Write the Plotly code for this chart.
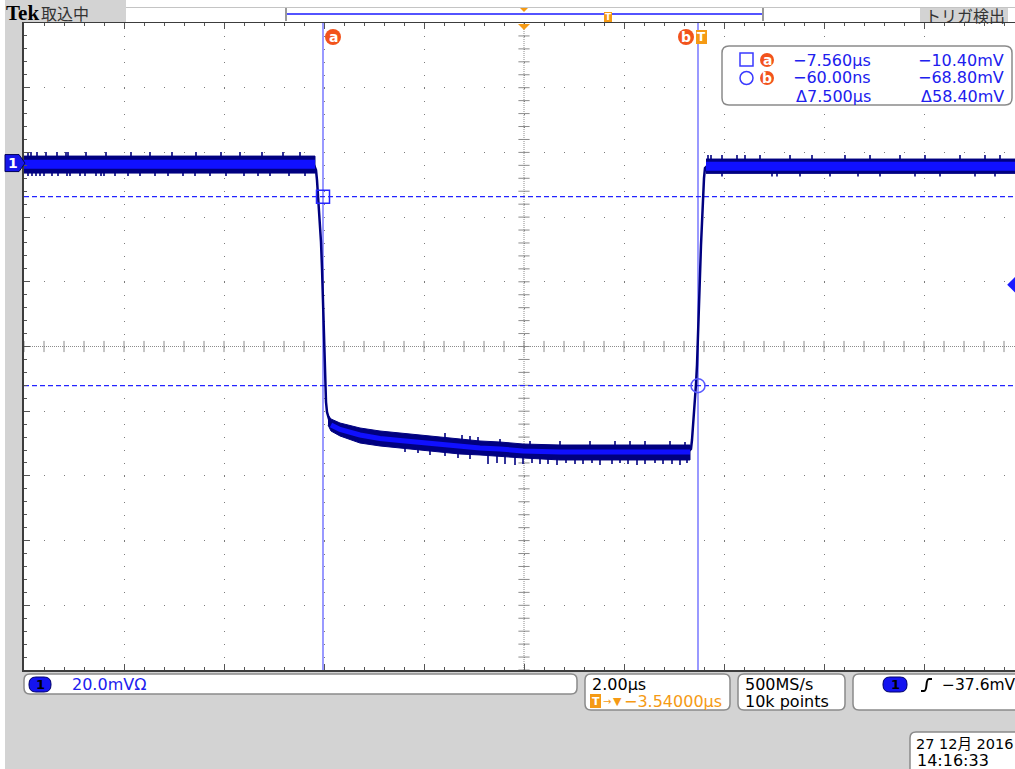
import plotly.graph_objects as go

# ---------------- acquisition / screen settings ----------------
t_min, t_max = -13.54, 6.28        # visible time window (µs)
v_min, v_max = -156.7, 43.3        # visible level window (mV)
center_time_us = -3.54             # trigger -> screen centre delay
center_level_mv = -56.7            # screen centre level
x_div_us = 2.0
y_div_mv = 20.0
trigger_level_mv = -37.6

# cursors
cur_a_t, cur_a_v = -7.560, -10.40
cur_b_t, cur_b_v = -0.060, -68.80

# ---------------- channel 1 waveform (µs, mV) ----------------
# high level before the falling edge: band top / bottom / bright core
hi1_t = [-13.54, -7.72]
hi1_top = [2.16, 2.16]
hi1_bot = [-3.09, -3.09]
hi1_core = [-0.40, -0.40]

# falling edge
fall_t = [-7.74, -7.70, -7.68, -7.66, -7.64, -7.62, -7.60, -7.58, -7.56,
          -7.54, -7.52, -7.50, -7.48, -7.44, -7.40]
fall_mv = [-0.62, -2.16, -5.25, -9.89, -15.14, -19.47, -24.41, -32.45,
           -43.88, -56.24, -67.06, -73.86, -76.95, -79.11, -80.35]

# low level with slow settling
low_t = [-7.46, -7.40, -7.22, -6.82, -6.42, -6.02, -5.62, -5.22, -4.82,
         -4.42, -4.02, -3.56, -2.82, -2.02, -1.22, -0.22]
low_top = [-77.87, -79.11, -80.35, -81.89, -82.82, -83.44, -84.05, -84.67,
           -85.29, -85.91, -86.22, -86.84, -87.15, -87.15, -87.15, -87.15]
low_bot = [-80.96, -82.82, -84.36, -86.53, -87.45, -88.07, -88.69, -89.31,
           -89.93, -90.23, -90.54, -91.16, -91.78, -91.78, -91.78, -91.78]
low_core = [-79.42, -80.96, -82.35, -84.05, -85.14, -85.75, -86.37, -86.99,
            -87.61, -88.07, -88.38, -89.00, -89.31, -89.31, -89.31, -89.31]

# rising edge
rise_t = [-0.24, -0.20, -0.18, -0.16, -0.14, -0.12, -0.10, -0.08, -0.06,
          -0.04, -0.02, 0.00, 0.02, 0.04, 0.06, 0.08, 0.12]
rise_mv = [-89.00, -88.38, -85.60, -81.89, -77.26, -72.62, -68.29, -62.42,
           -54.70, -45.43, -34.61, -25.34, -17.00, -9.89, -4.64, -1.55, -0.93]

# high level after the rising edge
hi2_t = [0.10, 6.28]
hi2_top = [1.24, 1.24]
hi2_bot = [-3.18, -3.18]
hi2_core = [-0.99, -0.99]

# noise excursions outside the band: (time µs, peak mV)
hi1_up_t = [-13.46, -13.40, -13.28, -13.10, -12.88, -12.70, -12.66, -12.30,
            -11.90, -11.40, -11.02, -10.58, -10.10, -9.60, -9.22, -8.78,
            -8.36, -8.02]
hi1_up_mv = [3.40] * 18
hi1_dn_t = [-13.46, -13.38, -13.30, -13.22, -13.14, -12.98, -12.86, -12.68,
            -12.62, -12.42, -12.32, -12.10, -12.00, -11.94, -11.72, -11.46,
            -11.22, -10.92, -10.66, -10.36, -10.12, -9.82, -9.50, -9.14,
            -8.86, -8.62, -8.24, -7.92]
hi1_dn_mv = [-4.02] * 28
low_up_t = [-5.12, -4.78, -4.62, -4.46, -4.02, -3.42, -2.82, -2.22, -1.72,
            -1.42, -1.12, -0.62, -0.32]
low_up_mv = [-83.44, -84.05, -84.36, -84.67, -85.29, -85.91, -85.91, -85.91,
             -85.91, -85.91, -85.91, -85.91, -86.22]
low_dn_t = [-5.92, -5.66, -5.42, -5.12, -4.86, -4.62, -4.26, -4.08, -3.92,
            -3.72, -3.56, -3.38, -3.22, -3.06, -2.88, -2.70, -2.52, -2.36,
            -2.18, -2.02, -1.78, -1.62, -1.46, -1.28, -1.12, -0.92, -0.76,
            -0.58, -0.42, -0.28]
low_dn_mv = [-89.31, -89.62, -90.23, -90.54, -91.16, -91.47, -93.02, -92.71,
             -93.02, -93.33, -93.02, -92.71, -93.02, -93.02, -93.33, -92.71,
             -93.02, -93.02, -92.71, -93.33, -93.02, -92.71, -93.02, -93.33,
             -93.02, -92.71, -93.02, -93.02, -93.33, -92.71]
hi2_up_t = [0.14, 0.20, 0.42, 0.72, 0.88, 1.18, 1.78, 2.22, 2.88, 3.38,
            3.98, 4.48, 5.18, 5.68, 5.98]
hi2_up_mv = [2.47] * 15
hi2_dn_t = [0.42, 1.42, 1.52, 1.98, 2.58, 3.14, 3.58, 4.28, 4.78, 5.48, 5.88]
hi2_dn_mv = [-4.17] * 11

# ---------------- readout texts ----------------
cursor_rows = [
    ("a", "\u22127.560µs", "\u221210.40mV"),
    ("b", "\u221260.00ns", "\u221268.80mV"),
    ("", "Δ7.500µs", "Δ58.40mV"),
]
scale_text = "20.0mVΩ"
timebase_text = "2.00µs"
delay_text = "\u22123.54000µs"
rate_text = "500MS/s"
length_text = "10k points"
trig_text = "\u221237.6mV"
date_text = "27 12月 2016"
clock_text = "14:16:33"

# ---------------- page geometry helpers ----------------
W, H = 1015, 769
X0, X1 = 24, 1015
Y0, Y1 = 23, 670


def fx(px):
    return (px - X0) / (X1 - X0)


def fy(py):
    return (Y1 - py) / (Y1 - Y0)


def tx(t):
    return X0 + (t - t_min) / (t_max - t_min) * (X1 - X0)


def vy(v):
    return Y0 + (v_max - v) / (v_max - v_min) * (Y1 - Y0)


NAVY = "#000080"
CORE = "#1010ff"
CURSOR_V = "#8080ff"
CURSOR_H = "#2424ff"
READ_BLUE = "#2020ee"
BADGE = "#f2531c"
TRIG_OR = "#f59a14"
GRAY_BG = "#d3d3d3"
GRID = "#7c7c7c"
FONT = "DejaVu Sans, Noto Sans CJK JP"

shapes = []
annots = []


def rect(x0, y0, x1, y1, fill, line=None, lw=0, layer="above"):
    shapes.append(dict(type="rect", xref="paper", yref="paper",
                       x0=fx(x0), x1=fx(x1), y0=fy(y1), y1=fy(y0),
                       fillcolor=fill, line=dict(color=line or fill, width=lw),
                       layer=layer))


def rounded(x0, y0, x1, y1, r, fill="white", line="#8a8a8a", lw=1.5):
    p = (f"M{fx(x0 + r)},{fy(y0)} L{fx(x1 - r)},{fy(y0)} "
         f"Q{fx(x1)},{fy(y0)} {fx(x1)},{fy(y0 + r)} L{fx(x1)},{fy(y1 - r)} "
         f"Q{fx(x1)},{fy(y1)} {fx(x1 - r)},{fy(y1)} L{fx(x0 + r)},{fy(y1)} "
         f"Q{fx(x0)},{fy(y1)} {fx(x0)},{fy(y1 - r)} L{fx(x0)},{fy(y0 + r)} "
         f"Q{fx(x0)},{fy(y0)} {fx(x0 + r)},{fy(y0)} Z")
    shapes.append(dict(type="path", xref="paper", yref="paper", path=p,
                       fillcolor=fill, line=dict(color=line, width=lw), layer="above"))


def circle(cx, cy, r, fill, line=None, lw=0):
    shapes.append(dict(type="circle", xref="paper", yref="paper",
                       x0=fx(cx - r), x1=fx(cx + r), y0=fy(cy + r), y1=fy(cy - r),
                       fillcolor=fill, line=dict(color=line or fill, width=lw),
                       layer="above"))


def poly(points, fill, line=None, lw=0):
    p = "M" + " L".join(f"{fx(a)},{fy(b)}" for a, b in points) + " Z"
    shapes.append(dict(type="path", xref="paper", yref="paper", path=p,
                       fillcolor=fill, line=dict(color=line or fill, width=lw),
                       layer="above"))


def seg(x0, y0, x1, y1, color, lw=1, dash="solid"):
    shapes.append(dict(type="line", xref="paper", yref="paper",
                       x0=fx(x0), x1=fx(x1), y0=fy(y0), y1=fy(y1),
                       line=dict(color=color, width=lw, dash=dash), layer="above"))


def text(px, py, s, size=16, color="black", anchor="left", family=FONT, bold=False):
    annots.append(dict(x=fx(px), y=fy(py), xref="paper", yref="paper",
                       text=f"<b>{s}</b>" if bold else s, showarrow=False,
                       xanchor=anchor, yanchor="middle",
                       font=dict(size=size, color=color, family=family)))


def badge(cx, cy, letter, r=8):
    circle(cx, cy, r, BADGE)
    text(cx, cy, letter, size=14, color="white", anchor="center", bold=True)


# ---------------- frame around the graticule ----------------
rect(0, 0, 5, H, "white")                      # thin white page margin
rect(126, 0, W, 22, "white")                   # top status strip
seg(126, 7.5, W, 7.5, "#c4c4c4", 1)
rect(5, 0, 126, 22, GRAY_BG)
text(4, 13, "Tek", size=21, family="Liberation Serif", bold=True)
text(39, 13, "取込中", size=16, color="#333333", family="Noto Sans CJK JP")
rect(920, 8, 1008, 22, GRAY_BG)
text(965, 15, "トリガ検出", size=16, color="#333333", anchor="center",
     family="Noto Sans CJK JP")

# record view bar
seg(286, 8, 286, 21, "#9a9a9a", 2)
seg(763, 8, 763, 21, "#9a9a9a", 2)
seg(287, 14, 762, 14, "#1a1aff", 1.5)
poly([(tx(center_time_us) - 4, 8), (tx(center_time_us) + 4, 8),
      (tx(center_time_us), 12)], TRIG_OR)
rect(604, 12, 612, 22, TRIG_OR)
text(608, 17, "T", size=9, color="white", anchor="center", bold=True)

# trigger position marker at the top of the graticule
cx_trig = tx(center_time_us)
poly([(cx_trig - 6, 24), (cx_trig + 6, 24), (cx_trig, 30)], TRIG_OR)

# channel ground marker
g_y = vy(0.0)
poly([(5, g_y - 8.5), (19, g_y - 8.5), (25, g_y), (19, g_y + 8.5), (5, g_y + 8.5)],
     "#1616e8", line="#00005a", lw=1)
text(13, g_y, "1", size=14, color="white", anchor="center", bold=True)

# cursor badges over the graticule
badge(tx(cur_a_t) + 10, 37, "a")
badge(tx(cur_b_t) - 12, 37, "b")
rect(tx(0.0) - 5, 30, tx(0.0) + 6, 44, TRIG_OR)
text(tx(0.0) + 0.5, 37, "T", size=12, color="white", anchor="center", bold=True)

# cursor readout box
rounded(722, 46, 1012, 105, 7)
shapes.append(dict(type="rect", xref="paper", yref="paper",
                   x0=fx(740), x1=fx(753), y0=fy(66), y1=fy(53),
                   fillcolor="rgba(0,0,0,0)", line=dict(color="#3a3aff", width=1.5),
                   layer="above"))
shapes.append(dict(type="circle", xref="paper", yref="paper",
                   x0=fx(740), x1=fx(753), y0=fy(84.5), y1=fy(71.5),
                   fillcolor="rgba(0,0,0,0)", line=dict(color="#3a3aff", width=1.5),
                   layer="above"))
row_y = [60, 78, 96.5]
for (lab, tv, vv), ry in zip(cursor_rows, row_y):
    if lab:
        badge(767, ry, lab, r=7)
    text(873, ry, tv, size=16, color=READ_BLUE, anchor="right")
    text(1006, ry, vv, size=16, color=READ_BLUE, anchor="right")

# bottom readout boxes
rounded(24, 674, 577, 694, 6)
rounded(29, 677, 51, 692, 7, fill="#1414f0", line="#00006a", lw=1)
text(40, 684.5, "1", size=13, color="black", anchor="center", bold=True)
text(70, 684.5, scale_text, size=16, color=READ_BLUE)

rounded(585, 674, 730, 710, 6)
text(590, 684.5, timebase_text, size=16)
rect(590, 694, 601, 708, TRIG_OR)
text(595.5, 701, "T", size=11, color="white", anchor="center", bold=True)
text(601, 701.5, "→", size=10, color=TRIG_OR)
text(611, 701, "▼", size=11, color=TRIG_OR)
text(622, 701.5, delay_text, size=16, color=TRIG_OR)

rounded(738, 674, 845, 710, 6)
text(743, 684.5, rate_text, size=16)
text(743, 701.5, length_text, size=16)

rounded(853, 674, 1040, 710, 6)
rounded(883, 677, 907, 692, 7, fill="#1414f0", line="#00006a", lw=1)
text(895, 684.5, "1", size=13, color="black", anchor="center", bold=True)
shapes.append(dict(type="path", xref="paper", yref="paper",
                   path=(f"M{fx(921)},{fy(691)} L{fx(924)},{fy(691)} "
                         f"Q{fx(926)},{fy(691)} {fx(926.5)},{fy(685)} "
                         f"Q{fx(927)},{fy(679)} {fx(929)},{fy(679)} L{fx(932)},{fy(679)}"),
                   line=dict(color="black", width=2), layer="above"))
text(940, 684.5, trig_text, size=15.5)

rounded(910, 732, 1040, 775, 6)
text(914, 743.5, date_text, size=14.5)
text(915, 760.5, clock_text, size=16)

# ---------------- graticule centre lines ----------------
shapes.append(dict(type="line", xref="x", yref="y", x0=t_min, x1=t_max,
                   y0=center_level_mv, y1=center_level_mv,
                   line=dict(color="#8c8c8c", width=1, dash="1px,1px"), layer="below"))
shapes.append(dict(type="line", xref="x", yref="y", x0=center_time_us, x1=center_time_us,
                   y0=v_min, y1=v_max,
                   line=dict(color="#8c8c8c", width=1, dash="1px,1px"), layer="below"))

n_xminor = int(round((t_max - t_min) / (x_div_us / 5))) + 1
n_yminor = int(round((v_max - v_min) / (y_div_mv / 5))) + 1
xt = [t_min + k * x_div_us / 5 for k in range(n_xminor)]
yt = [v_min + k * y_div_mv / 5 for k in range(n_yminor)]

fig = go.Figure()
fig.add_trace(go.Scatter(x=xt, y=[center_level_mv] * len(xt), mode="markers",
                         marker=dict(symbol="line-ns", size=8,
                                     line=dict(color="#8c8c8c", width=1)),
                         hoverinfo="skip"))
fig.add_trace(go.Scatter(x=[center_time_us] * len(yt), y=yt, mode="markers",
                         marker=dict(symbol="line-ew", size=8,
                                     line=dict(color="#8c8c8c", width=1)),
                         hoverinfo="skip"))

# ---------------- cursors ----------------
for ct in (cur_a_t, cur_b_t):
    fig.add_trace(go.Scatter(x=[ct, ct], y=[v_min, v_max], mode="lines",
                             line=dict(color=CURSOR_V, width=1.6), hoverinfo="skip"))
for cv in (cur_a_v, cur_b_v):
    fig.add_trace(go.Scatter(x=[t_min, t_max], y=[cv, cv], mode="lines",
                             line=dict(color=CURSOR_H, width=1.3, dash="5px,3px"),
                             hoverinfo="skip"))


# ---------------- waveform ----------------
def spikes(ts, peaks, base):
    xs, ys = [], []
    for t, p in zip(ts, peaks):
        xs += [t, t, None]
        ys += [base, p, None]
    fig.add_trace(go.Scatter(x=xs, y=ys, mode="lines", connectgaps=False,
                             line=dict(color=NAVY, width=1.6), hoverinfo="skip"))


def band(t, top, bot):
    fig.add_trace(go.Scatter(x=t + t[::-1], y=top + bot[::-1], mode="lines",
                             fill="toself", fillcolor=NAVY,
                             line=dict(color=NAVY, width=1), hoverinfo="skip"))


spikes(hi1_up_t, hi1_up_mv, -0.4)
spikes(hi1_dn_t, hi1_dn_mv, -0.4)
spikes(hi2_up_t, hi2_up_mv, -1.0)
spikes(hi2_dn_t, hi2_dn_mv, -1.0)
spikes(low_up_t, low_up_mv, -88.0)
spikes(low_dn_t, low_dn_mv, -88.0)

band(hi1_t, hi1_top, hi1_bot)
band(low_t, low_top, low_bot)
band(hi2_t, hi2_top, hi2_bot)
fig.add_trace(go.Scatter(x=fall_t, y=fall_mv, mode="lines",
                         line=dict(color=NAVY, width=2.5), hoverinfo="skip"))
fig.add_trace(go.Scatter(x=rise_t, y=rise_mv, mode="lines",
                         line=dict(color=NAVY, width=2.5), hoverinfo="skip"))
fig.add_trace(go.Scatter(x=hi1_t, y=hi1_core, mode="lines",
                         line=dict(color=CORE, width=9), hoverinfo="skip"))
fig.add_trace(go.Scatter(x=hi2_t, y=hi2_core, mode="lines",
                         line=dict(color=CORE, width=9), hoverinfo="skip"))
fig.add_trace(go.Scatter(x=low_t[1:], y=low_core[1:], mode="lines",
                         line=dict(color=CORE, width=5), hoverinfo="skip"))

# cursor crossing markers
fig.add_trace(go.Scatter(x=[cur_a_t], y=[cur_a_v], mode="markers",
                         marker=dict(symbol="square-open", size=13,
                                     color=CURSOR_H, line=dict(width=1.5)),
                         hoverinfo="skip"))
fig.add_trace(go.Scatter(x=[cur_b_t], y=[cur_b_v], mode="markers",
                         marker=dict(symbol="circle-open", size=14,
                                     color="#5a5aff", line=dict(width=1.5)),
                         hoverinfo="skip"))

# trigger level marker on the right edge
fig.add_trace(go.Scatter(x=[t_max], y=[trigger_level_mv], mode="markers",
                         marker=dict(symbol="diamond", size=12, color="#1a1aff"),
                         cliponaxis=False, hoverinfo="skip"))

fig.update_layout(
    width=W, height=H, showlegend=False,
    margin=dict(l=X0, r=W - X1, t=Y0, b=H - Y1, pad=0),
    paper_bgcolor=GRAY_BG, plot_bgcolor="white",
    xaxis=dict(range=[t_min, t_max], tickmode="linear", tick0=t_min, dtick=x_div_us,
               showgrid=True, gridcolor=GRID, gridwidth=1, griddash="1px,11.94px",
               showticklabels=False, ticks="inside", ticklen=6, tickcolor="#555555",
               showline=True, linecolor="#3c3c3c", linewidth=2, mirror="allticks",
               zeroline=False, fixedrange=True,
               minor=dict(ticks="inside", ticklen=3, tickcolor="#555555",
                          tickmode="linear", tick0=t_min, dtick=x_div_us / 5,
                          showgrid=False)),
    yaxis=dict(range=[v_min, v_max], tickmode="linear", tick0=center_level_mv,
               dtick=y_div_mv, showgrid=True, gridcolor=GRID, gridwidth=1,
               griddash="1px,19px", showticklabels=False, ticks="inside", ticklen=6,
               tickcolor="#555555", showline=True, linecolor="#3c3c3c", linewidth=2,
               zeroline=False, fixedrange=True,
               minor=dict(ticks="inside", ticklen=3, tickcolor="#555555",
                          tickmode="linear", tick0=center_level_mv,
                          dtick=y_div_mv / 5, showgrid=False)),
    shapes=shapes, annotations=annots,
)

fig.write_html("out.html")
